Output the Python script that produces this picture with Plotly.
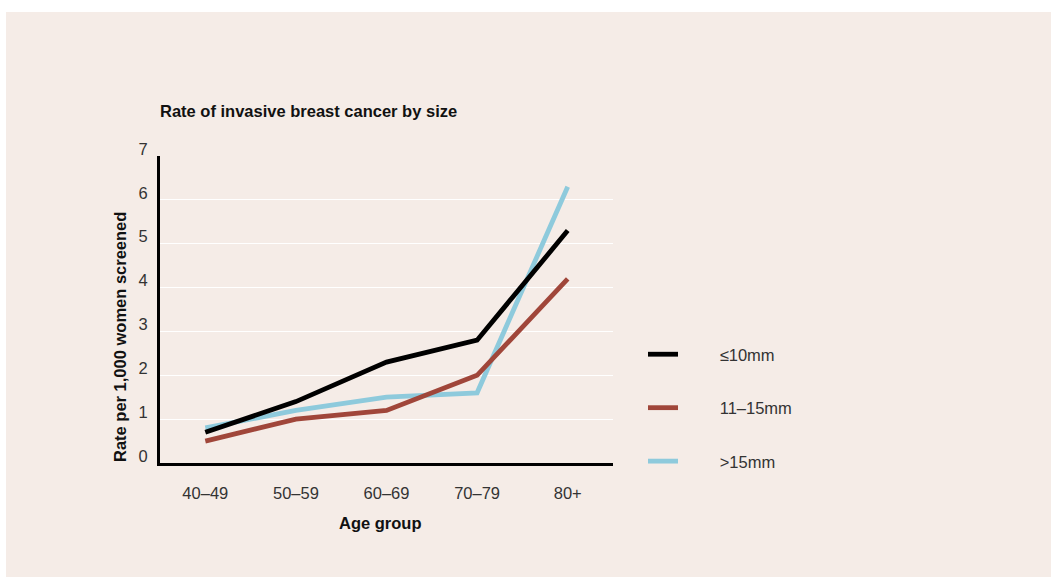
import plotly.graph_objects as go

# Age groups on the x axis and the rate per 1,000 women screened for each size band
age_groups = ["40\u201349", "50\u201359", "60\u201369", "70\u201379", "80+"]
rate_le10 = [0.7, 1.4, 2.3, 2.8, 5.3]
rate_11_15 = [0.5, 1.0, 1.2, 2.0, 4.2]
rate_gt15 = [0.8, 1.2, 1.5, 1.6, 6.3]

series_names = ["\u226410mm", "11\u201315mm", ">15mm"]
series_colors = ["#000000", "#A0463A", "#8ECADC"]
series_values = [rate_le10, rate_11_15, rate_gt15]

W, H = 1051, 578
L, R, T, B = 160, 438, 156, 115
plot_w = W - L - R
plot_h = H - T - B

# padding between the legend swatch and its label
label_pad = "\u00a0" * 8

fig = go.Figure()
# draw light blue first so the darker lines sit on top
for idx in [2, 1, 0]:
    fig.add_trace(go.Scatter(
        x=age_groups, y=series_values[idx], name=label_pad + series_names[idx],
        mode="lines", line=dict(color=series_colors[idx], width=4.8),
        legendgroup=series_names[idx], legendrank=idx + 1,
    ))

font_family = "Liberation Sans, Arial, sans-serif"
bg = "#F5ECE7"


def px_x(p):
    return (p - L) / plot_w


def px_y(p):
    return (H - B - p) / plot_h


# beige card behind the chart
fig.add_shape(type="rect", xref="paper", yref="paper",
              x0=px_x(6), x1=px_x(1060), y0=px_y(577), y1=px_y(12),
              fillcolor=bg, line=dict(width=0), layer="below")

title_font = dict(size=16.5, color="#111111", family=font_family)

# axis titles
fig.add_annotation(text="<b>Rate per 1,000 women screened</b>", textangle=-90,
                   xref="paper", yref="paper", x=px_x(120), y=px_y(337),
                   xanchor="center", yanchor="middle",
                   showarrow=False, font=title_font)
fig.add_annotation(text="<b>Age group</b>",
                   xref="paper", yref="paper", x=px_x(380), y=px_y(523),
                   xanchor="center", yanchor="middle",
                   showarrow=False, font=title_font)

fig.update_layout(
    width=W, height=H,
    margin=dict(l=L, r=R, t=T, b=B),
    paper_bgcolor="white", plot_bgcolor="rgba(0,0,0,0)",
    font=dict(family=font_family, color="#333333", size=16.5),
    title=dict(text="<b>Rate of invasive breast cancer by size</b>",
               x=0, xref="paper", xanchor="left",
               y=1 - 111 / H, yref="container", yanchor="middle",
               font=title_font),
    showlegend=True,
    legend=dict(x=px_x(643), xanchor="left", y=px_y(337), yanchor="top",
                bgcolor="rgba(0,0,0,0)", tracegroupgap=29, itemwidth=30,
                font=dict(size=16.5, color="#333333"), traceorder="grouped"),
    xaxis=dict(range=[-0.5, 4.5], showgrid=False, zeroline=False,
               showline=True, linecolor="#000000", linewidth=3,
               ticks="", ticklabelstandoff=13),
    yaxis=dict(range=[0, 7], dtick=1, showgrid=True, gridcolor="white",
               gridwidth=1, zeroline=False,
               showline=True, linecolor="#000000", linewidth=3,
               ticks="", ticklabelstandoff=6, ticklabelshift=-7),
)

fig.write_html("out.html")
